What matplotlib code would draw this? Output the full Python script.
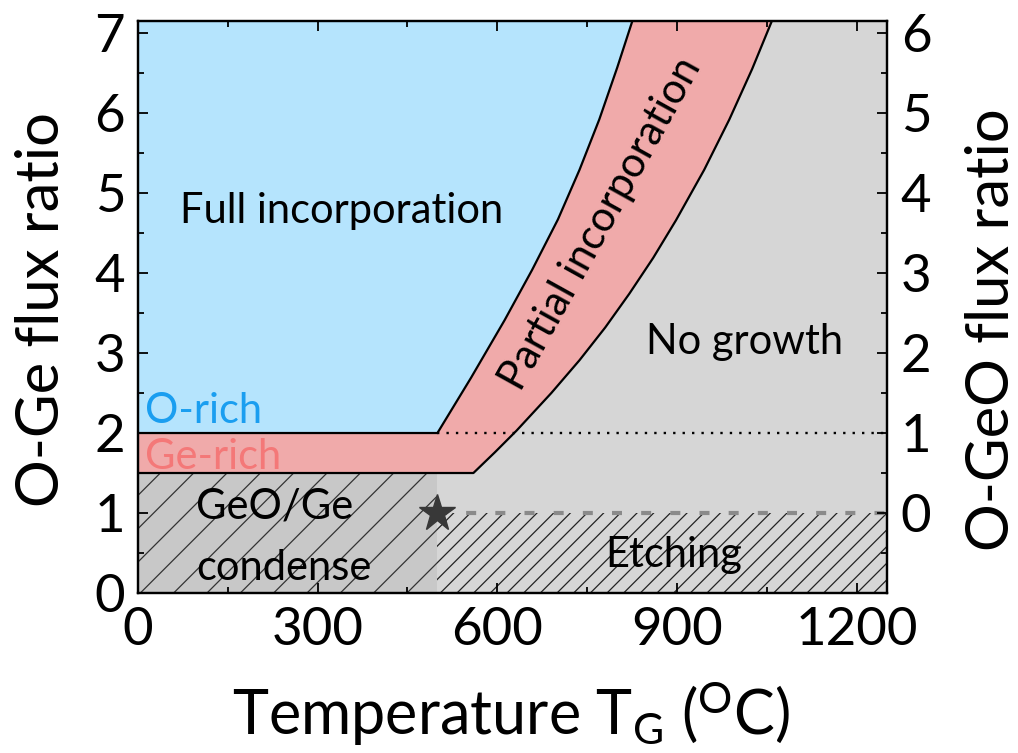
import matplotlib
matplotlib.use("Agg")
import matplotlib.pyplot as plt
from matplotlib.patches import Polygon, Rectangle
from matplotlib.ticker import MultipleLocator

plt.rcParams['font.family'] = ['Lato', 'DejaVu Sans']
plt.rcParams['mathtext.fontset'] = 'custom'
plt.rcParams['mathtext.rm'] = 'Lato'
plt.rcParams['mathtext.it'] = 'Lato:italic'
plt.rcParams['hatch.linewidth'] = 0.9

# Phase-boundary data (temperature in degC, O-Ge flux ratio)
t_switch = 500          # boundary between condensation and desorption
oge_ratio_orich = 2.0   # O-rich / Ge-rich boundary
oge_ratio_gerich = 1.5  # Ge-rich / condensation boundary
oge_ratio_etch = 1.0    # etching threshold

# Full / partial incorporation boundary
upper_T = [500, 556, 612, 658, 701, 737, 770, 800, 826]
upper_R = [2.00, 2.69, 3.41, 4.04, 4.67, 5.29, 5.92, 6.57, 7.17]

# Partial incorporation / no growth boundary
lower_T = [0, 560, 596, 632, 690, 737, 780, 820, 860, 898, 945, 987, 1025, 1059]
lower_R = [1.5, 1.50, 1.76, 2.03, 2.50, 2.91, 3.32, 3.74, 4.19, 4.66, 5.29, 5.92, 6.55, 7.17]

# Star marker: reference growth condition
star_T, star_R = 500, 1.0

x_ticks = [0, 300, 600, 900, 1200]
y_ticks = [0, 1, 2, 3, 4, 5, 6, 7]
y2_ticks = [0, 1, 2, 3, 4, 5, 6]

c_blue = '#b5e4fd'
c_pink = '#f0aaaa'
c_gray = '#d6d6d6'
c_cond = '#c8c8c8'

fig = plt.figure(figsize=(10.18, 7.53), dpi=100)
ax = fig.add_axes([0.1353, 0.2125, 0.7360, 0.7595])
xmax, ymax = 1250, 7.15
ax.set_xlim(0, xmax)
ax.set_ylim(0, ymax)
ax.set_facecolor(c_gray)

top = upper_R[-1]
# Full incorporation (blue)
blue_pts = [(0, oge_ratio_orich)] + list(zip(upper_T, upper_R)) + [(0, top)]
ax.add_patch(Polygon(blue_pts, closed=True, facecolor=c_blue, edgecolor='none', zorder=1))

# Partial incorporation (pink)
pink_pts = ([(0, oge_ratio_gerich)] + list(zip(lower_T[1:], lower_R[1:]))
            + list(zip(upper_T[::-1], upper_R[::-1])) + [(0, oge_ratio_orich)])
ax.add_patch(Polygon(pink_pts, closed=True, facecolor=c_pink, edgecolor='none', zorder=1))

# GeO/Ge condensation (sparse hatch)
ax.add_patch(Rectangle((0, 0), t_switch, oge_ratio_gerich, facecolor=c_cond,
                       edgecolor='#333333', hatch='/', linewidth=0, zorder=1))
# Etching (dense hatch)
ax.add_patch(Rectangle((t_switch, 0), xmax - t_switch, oge_ratio_etch, facecolor=c_gray,
                       edgecolor='#222222', hatch='//', linewidth=0, zorder=1))

# Boundary lines
ax.plot([0] + upper_T, [oge_ratio_orich] + upper_R, color='black', lw=1.6, zorder=3)
ax.plot(lower_T, lower_R, color='black', lw=1.6, zorder=3)
ax.plot([t_switch, xmax], [oge_ratio_orich, oge_ratio_orich], color='black', lw=1.7,
        linestyle=(0, (1, 3.0)), zorder=3)
ax.plot([t_switch, xmax], [oge_ratio_etch, oge_ratio_etch], color='#8a8a8a', lw=3.0,
        linestyle=(0, (2.4, 4.6)), zorder=3)
ax.plot([star_T], [star_R], marker='*', color='#383838', markersize=28, zorder=4,
        linestyle='none')

# Region labels
fs_txt = 30
ax.text(340, 4.62, 'Full incorporation', fontsize=fs_txt, ha='center', va='baseline')
ax.text(1013, 2.99, 'No growth', fontsize=fs_txt, ha='center', va='baseline')
ax.text(894, 0.325, 'Etching', fontsize=fs_txt, ha='center', va='baseline')
ax.text(98, 0.93, 'GeO/Ge', fontsize=fs_txt, ha='left', va='baseline')
ax.text(98, 0.16, 'condense', fontsize=fs_txt, ha='left', va='baseline')
ax.text(12, 2.12, 'O-rich', fontsize=fs_txt, color='#1a9ef0', ha='left', va='baseline')
ax.text(12, 1.555, 'Ge-rich', fontsize=fs_txt, color='#f47878', ha='left', va='baseline')
ax.text(772, 4.62, 'Partial incorporation', fontsize=fs_txt, rotation=61,
        ha='center', va='center', rotation_mode='anchor')

# Axes and ticks
ax.set_xticks(x_ticks)
ax.set_yticks(y_ticks)
ax.xaxis.set_minor_locator(MultipleLocator(150))
ax.yaxis.set_minor_locator(MultipleLocator(0.5))
ax.tick_params(which='both', direction='in', top=True, right=False, width=1.3,
               labelsize=38, zorder=5)
ax.tick_params(which='major', length=7)
ax.tick_params(which='minor', length=4.5)
ax.tick_params(axis='x', pad=10)
ax.tick_params(axis='y', pad=9)
for s in ax.spines.values():
    s.set_linewidth(1.6)
    s.set_zorder(6)

ax2 = ax.twinx()
ax2.set_ylim(-oge_ratio_etch, ymax - oge_ratio_etch)
ax2.set_yticks(y2_ticks)
ax2.yaxis.set_minor_locator(MultipleLocator(0.5))
ax2.tick_params(which='both', direction='in', width=1.3, labelsize=38, pad=10)
ax2.tick_params(which='major', length=7)
ax2.tick_params(which='minor', length=4.5)
for s in ax2.spines.values():
    s.set_linewidth(1.6)

ax.set_xlabel('Temperature T$_{\\mathrm{G}}$ ($^{\\mathrm{O}}$C)', fontsize=44, va='baseline')
ax.xaxis.set_label_coords(0.498, -0.248)
ax.set_ylabel('O-Ge flux ratio', fontsize=43, va='center')
ax.yaxis.set_label_coords(-0.128, 0.495)
ax2.set_ylabel('O-GeO flux ratio', fontsize=43, va='center', rotation=90)
ax2.yaxis.set_label_coords(1.14, 0.46)

fig.savefig('out.png', dpi=100)
